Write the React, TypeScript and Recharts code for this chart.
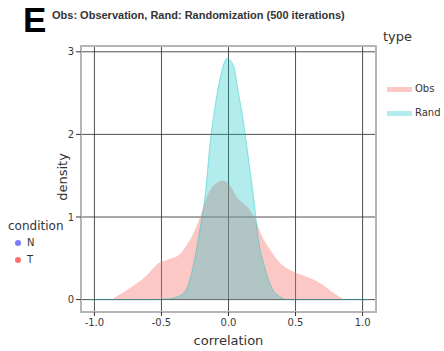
import React from 'react';
import { ComposedChart, Area, XAxis, YAxis, CartesianGrid, ReferenceArea } from 'recharts';

// density of observed correlations
const obsX = [-0.87, -0.74, -0.61, -0.52, -0.44, -0.36, -0.31, -0.26, -0.21, -0.16, -0.11, -0.04, 0.01, 0.06, 0.11, 0.16, 0.2, 0.25, 0.31, 0.39, 0.49, 0.59, 0.69, 0.79, 0.86];
const obsY = [0, 0.13, 0.29, 0.44, 0.49, 0.55, 0.66, 0.8, 1.0, 1.24, 1.38, 1.44, 1.38, 1.24, 1.16, 1.08, 0.96, 0.76, 0.6, 0.43, 0.33, 0.27, 0.19, 0.07, 0];

// density of randomized correlations
const randX = [-1.05, -0.6, -0.44, -0.34, -0.29, -0.25, -0.21, -0.17, -0.14, -0.1, -0.06, -0.01, 0.04, 0.07, 0.11, 0.15, 0.19, 0.22, 0.27, 0.32, 0.39, 0.44, 0.6, 1.05];
const randY = [0, 0, 0.01, 0.07, 0.23, 0.51, 0.88, 1.32, 1.85, 2.34, 2.7, 2.92, 2.82, 2.54, 2.17, 1.69, 1.2, 0.76, 0.39, 0.15, 0.03, 0, 0, 0];

const xTicks = [-1, -0.5, 0, 0.5, 1];
const yTicks = [0, 1, 2, 3];

const obsData = obsX.map((x, i) => ({ x, y: obsY[i] }));
const randData = randX.map((x, i) => ({ x, y: randY[i] }));

const tickFont = { fontFamily: 'DejaVu Sans', fontSize: 10, fill: '#3a3a3a' };
const font = 'DejaVu Sans';

const App: React.FC = () => {
	return (
		<div style={{ position: 'absolute', left: 0, top: 0, width: 444, height: 351, background: '#fff', fontFamily: font }}>
			<div style={{ position: 'absolute', left: 23, top: 0, fontFamily: 'Liberation Sans', fontWeight: 'bold', fontSize: 35, lineHeight: 'normal' }}>E</div>
			<div style={{ position: 'absolute', left: 52, top: 9, fontFamily: 'Liberation Sans', fontWeight: 'bold', fontSize: 11, color: '#333', whiteSpace: 'nowrap' }}>
				Obs: Observation, Rand: Randomization (500 iterations)
			</div>
			<ComposedChart width={444} height={351} margin={{ top: 46, right: 68, left: 51, bottom: 19 }}>
				<CartesianGrid stroke="#333" strokeOpacity={0.85} verticalValues={xTicks} horizontalValues={yTicks} />
				<XAxis
					dataKey="x"
					type="number"
					domain={[-1.1, 1.1]}
					allowDataOverflow
					ticks={xTicks}
					tickFormatter={(v: number) => v.toFixed(1)}
					axisLine={false}
					tickLine={{ stroke: '#333' }}
					tickSize={4}
					tickMargin={3}
					height={20}
					tick={tickFont}
				/>
				<YAxis
					type="number"
					domain={[-0.15, 3.07]}
					allowDataOverflow
					ticks={yTicks}
					axisLine={false}
					tickLine={{ stroke: '#333' }}
					tickSize={5}
					tickMargin={2}
					width={30}
					tick={tickFont}
				/>
				<Area data={obsData} dataKey="y" type="monotone" baseValue={0} fill="#F8766D" fillOpacity={0.4} stroke="#F8766D" strokeOpacity={0.15} isAnimationActive={false} />
				<Area data={randData} dataKey="y" type="monotone" baseValue={0} fill="#00BFC4" fillOpacity={0.3} stroke="#00BFC4" strokeOpacity={0.4} isAnimationActive={false} />
				<ReferenceArea x1={-1.1} x2={1.1} y1={-0.15} y2={3.07} fill="none" stroke="#b5b5b5" strokeWidth={2} ifOverflow="visible" />
			</ComposedChart>
			<div style={{ position: 'absolute', left: 0, top: 333, width: 457, textAlign: 'center', fontSize: 13, color: '#333' }}>correlation</div>
			<div style={{ position: 'absolute', left: 62, top: 177, transform: 'translate(-50%, -50%) rotate(-90deg)', fontSize: 13, color: '#333', whiteSpace: 'nowrap' }}>density</div>
			<div style={{ position: 'absolute', left: 383, top: 29, fontSize: 13, color: '#333' }}>type</div>
			<div style={{ position: 'absolute', left: 387, top: 87, width: 25, height: 5, background: '#FCC8C5' }} />
			<div style={{ position: 'absolute', left: 415, top: 83, fontSize: 10, color: '#333' }}>Obs</div>
			<div style={{ position: 'absolute', left: 387, top: 111, width: 25, height: 5, background: '#B2ECED' }} />
			<div style={{ position: 'absolute', left: 415, top: 107, fontSize: 10, color: '#333' }}>Rand</div>
			<div style={{ position: 'absolute', left: 8, top: 219, fontSize: 12, color: '#333' }}>condition</div>
			<div style={{ position: 'absolute', left: 15, top: 240, width: 6, height: 6, borderRadius: 3, background: '#7B7BFF' }} />
			<div style={{ position: 'absolute', left: 27, top: 237, fontSize: 10, color: '#333' }}>N</div>
			<div style={{ position: 'absolute', left: 15, top: 257, width: 6, height: 6, borderRadius: 3, background: '#FF7070' }} />
			<div style={{ position: 'absolute', left: 27, top: 254, fontSize: 10, color: '#333' }}>T</div>
		</div>
	);
};

export default App;
